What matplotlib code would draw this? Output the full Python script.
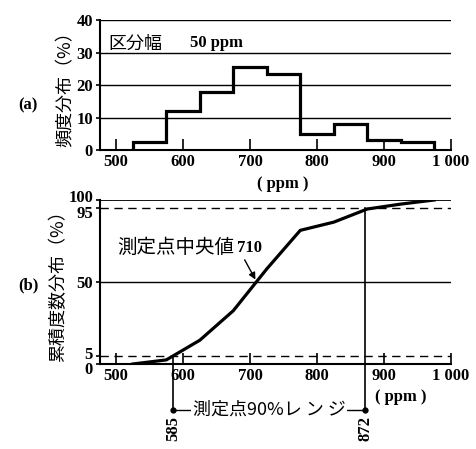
import numpy as np
import matplotlib
matplotlib.use('Agg')
import matplotlib.pyplot as plt
import matplotlib.transforms as mtransforms

plt.rcParams['font.family'] = ['Noto Sans CJK JP', 'DejaVu Sans']

# histogram (bin width 50 ppm)
bin_edges = [525, 575, 625, 675, 725, 775, 825, 875, 925, 975]
freq_pct = [2.5, 12, 18, 25.5, 23.5, 5, 8, 3, 2.5]
x_ticks = [500, 600, 700, 800, 900, 1000]
x_ticklabels = ['500', '600', '700', '800', '900', '1 000']
top_yticks = [0, 10, 20, 30, 40]
bot_yticks = [0, 5, 50, 95, 100]
median_val = 710
range_lo = 585
range_hi = 872

cum_pct = np.concatenate([[0], np.cumsum(freq_pct)])

num_font = dict(family='Liberation Serif', weight='bold', size=12)

fig = plt.figure(figsize=(4.76, 4.49), dpi=100)
ax1 = fig.add_axes([100/476, 1-150/449, 351/476, 130/449])
ax2 = fig.add_axes([100/476, 1-364/449, 351/476, 164/449])

# ---- (a) frequency histogram
ax1.stairs(freq_pct, bin_edges, baseline=0, color='black', linewidth=2.3)
for v in top_yticks[1:]:
    ax1.axhline(v, color='black', linewidth=1.0)
ax1.set_xlim(476, 1000)
ax1.set_ylim(0, 40)
ax1.set_xticks(x_ticks)
ax1.set_xticklabels(x_ticklabels, fontdict=num_font)
ax1.set_yticks(top_yticks)
ax1.set_yticklabels([str(v) for v in top_yticks], fontdict=num_font)
ax1.tick_params(axis='x', direction='in', length=8, width=1.2, pad=3)
ax1.tick_params(axis='y', direction='out', length=3, width=1.2, pad=2)
for s in ['top', 'right']:
    ax1.spines[s].set_visible(False)
ax1.spines['left'].set_linewidth(1.5)
ax1.spines['bottom'].set_linewidth(1.5)
ax1.set_ylabel('頻度分布（%）', fontsize=13, labelpad=1)
ax1.text(0.025, 0.82, '区分幅', transform=ax1.transAxes, fontsize=13, va='center')
ax1.text(0.255, 0.82, '50 ppm', transform=ax1.transAxes, va='center', **num_font)
ax1.text(0.52, -0.26, '( ppm )', transform=ax1.transAxes, ha='center', va='center',
         family='Liberation Serif', weight='bold', fontsize=12)
fig.text(28/476, 1-105/449, '(a)', ha='center', va='center', **num_font)

# ---- (b) cumulative distribution
ax2.plot(bin_edges, cum_pct, color='black', linewidth=2.3)
ax2.axhline(100, color='black', linewidth=1.3)
ax2.axhline(50, color='black', linewidth=1.0)
ax2.axhline(95, color='black', linewidth=1.0, linestyle=(0, (6, 4)))
ax2.axhline(5, color='black', linewidth=1.0, linestyle=(0, (6, 4)))
ax2.set_xlim(476, 1000)
ax2.set_ylim(0, 100)
ax2.set_xticks(x_ticks)
ax2.set_xticklabels(x_ticklabels, fontdict=num_font)
ax2.set_yticks(bot_yticks)
ax2.set_yticklabels([str(v) for v in bot_yticks], fontdict=num_font)
ax2.tick_params(axis='x', direction='in', length=8, width=1.2, pad=3)
ax2.tick_params(axis='y', direction='out', length=3, width=1.2, pad=2)
# spread the crowded labels (0/5 and 95/100) apart
shifts = {0: -3, 5: 2, 95: -3, 100: 3}
for val, lab in zip(bot_yticks, ax2.get_yticklabels()):
    if val in shifts:
        lab.set_transform(lab.get_transform() +
                          mtransforms.ScaledTranslation(0, shifts[val] / 72, fig.dpi_scale_trans))
for s in ['top', 'right']:
    ax2.spines[s].set_visible(False)
ax2.spines['left'].set_linewidth(1.5)
ax2.spines['bottom'].set_linewidth(1.5)
ax2.set_ylabel('累積度数分布（%）', fontsize=13, labelpad=1)
fig.text(28/476, 1-285/449, '(b)', ha='center', va='center', **num_font)

# median annotation
ax2.annotate('', xy=(median_val, 50), xytext=(690, 65),
             arrowprops=dict(arrowstyle='-|>', color='black', lw=1.0, mutation_scale=10))
ax2.text(0.05, 0.71, '測定点中央値', transform=ax2.transAxes, fontsize=14, va='center')
ax2.text(0.39, 0.71, str(median_val), transform=ax2.transAxes, va='center', **num_font)

# 90% range
y_dot = -28
ax2.plot([range_lo, range_lo], [5, y_dot], color='black', linewidth=1.2, clip_on=False)
ax2.plot([range_hi, range_hi], [95, y_dot], color='black', linewidth=1.2, clip_on=False)
ax2.plot([range_lo, range_hi], [y_dot, y_dot], color='black', linewidth=1.0, clip_on=False)
ax2.plot([range_lo, range_hi], [y_dot, y_dot], 'o', color='black', markersize=3.5, clip_on=False)
ax2.text((range_lo + range_hi) / 2, y_dot, '測定点90%レ ン ジ', ha='center', va='center',
         fontsize=13, bbox=dict(facecolor='white', edgecolor='none', pad=1))
ax2.text(range_lo, y_dot - 4, str(range_lo), rotation=90, ha='center', va='top', **num_font)
ax2.text(range_hi, y_dot - 4, str(range_hi), rotation=90, ha='center', va='top', **num_font)
ax2.text(925, -20, '( ppm )', ha='center', va='center',
         family='Liberation Serif', weight='bold', fontsize=12)

fig.savefig('out.png', dpi=100)
